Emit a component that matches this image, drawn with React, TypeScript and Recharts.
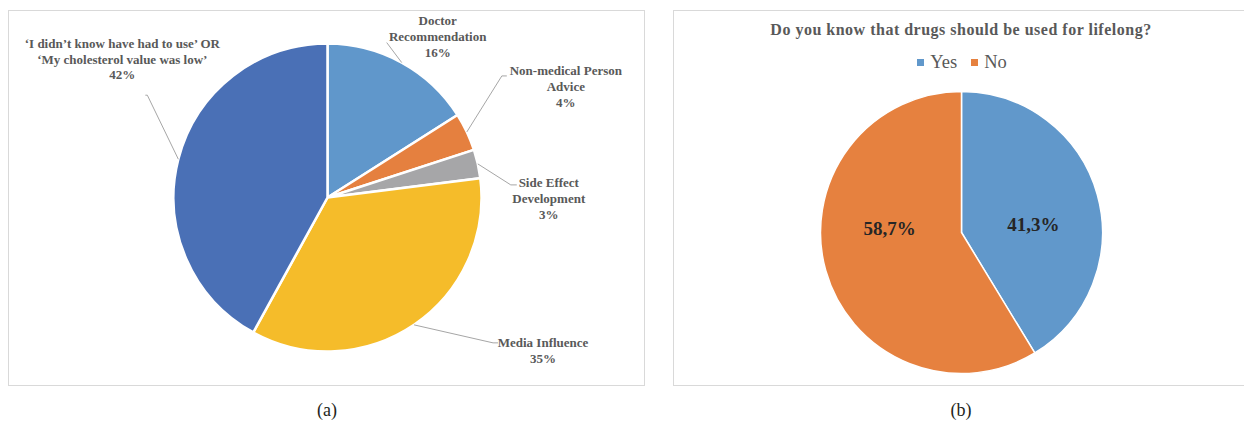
import { Cell, Legend, Pie, PieChart } from 'recharts'

// (a) reasons for stopping the drug
const reasonCategories = [
    'Doctor\nRecommendation',
    'Non-medical Person\nAdvice',
    'Side Effect\nDevelopment',
    'Media Influence',
    '‘I didn’t know have had to use’ OR\n‘My cholesterol value was low’',
]
const reasonValues = [16, 4, 3, 35, 42]

// (b) lifelong use question
const lifelongTitle = 'Do you know that drugs should be used for lifelong?'
const lifelongCategories = ['Yes', 'No']
const lifelongValues = [41.3, 58.7]

const REASON_COLORS = ['#6097cb', '#e5803f', '#a6a6a8', '#f5bc2a', '#4a70b6']
const LIFELONG_COLORS = ['#6198cb', '#e6813f']

const SERIF = '"Liberation Serif", "Times New Roman", serif'
const LABEL_GREY = '#595959'
const RADIAN = Math.PI / 180
const NO_MARGIN = { top: 0, right: 0, bottom: 0, left: 0 }

// leader line / text placement relative to the slice edge point
const REASON_LABELS = [
    { elbow: [-15, -20], end: [-15, -20], text: [36, -42] },
    { elbow: [35, -56], end: [40, -56], text: [99, -61] },
    { elbow: [33, 21], end: [39, 21], text: [71, 19] },
    { elbow: [79, 18], end: [84, 18], text: [129, 18] },
    { elbow: [-31, -64], end: [-33, -64], text: [-56, -116] },
]

const reasonData = reasonCategories.map((name, i) => ({ name, value: reasonValues[i] }))
const lifelongData = lifelongCategories.map((name, i) => ({ name, value: lifelongValues[i] }))

const renderReasonLabel = (props: any) => {
    const { cx, cy, midAngle, outerRadius, index } = props
    const entry = reasonData[index]
    const ex = cx + outerRadius * Math.cos(-midAngle * RADIAN)
    const ey = cy + outerRadius * Math.sin(-midAngle * RADIAN)
    const lay = REASON_LABELS[index]
    const lines = [...entry.name.split('\n'), `${entry.value}%`]
    return (
        <g key={`reason-label-${index}`}>
            <polyline
                points={`${ex},${ey} ${ex + lay.elbow[0]},${ey + lay.elbow[1]} ${ex + lay.end[0]},${ey + lay.end[1]}`}
                fill="none"
                stroke="#a6a6a6"
                strokeWidth={1}
            />
            <text
                x={ex + lay.text[0]}
                y={ey + lay.text[1]}
                textAnchor="middle"
                fill={LABEL_GREY}
                fontFamily={SERIF}
                fontWeight="bold"
                fontSize={13}
            >
                {lines.map((line, i) => (
                    <tspan key={i} x={ex + lay.text[0]} dy={i === 0 ? 4.5 : 15.8}>{line}</tspan>
                ))}
            </text>
        </g>
    )
}

const LIFELONG_LABEL_DY = [-8, -4]

const renderLifelongLabel = (props: any) => {
    const { cx, cy, midAngle, outerRadius, index } = props
    const x = cx + outerRadius * 0.53 * Math.cos(-midAngle * RADIAN)
    const y = cy + LIFELONG_LABEL_DY[index]
    return (
        <text
            key={`lifelong-label-${index}`}
            x={x}
            y={y}
            textAnchor="middle"
            dominantBaseline="central"
            fill="#262626"
            fontFamily={SERIF}
            fontWeight="bold"
            fontSize={19}
        >
            {`${lifelongValues[index].toFixed(1).replace('.', ',')}%`}
        </text>
    )
}

const renderLegend = (props: any) => {
    const items = [...(props.payload || [])].sort(
        (a: any, b: any) => lifelongCategories.indexOf(a.value) - lifelongCategories.indexOf(b.value)
    )
    return (
        <div style={{ display: 'flex', justifyContent: 'center', gap: 14, fontFamily: SERIF, fontSize: 18.5, color: LABEL_GREY }}>
            {items.map((item: any, i: number) => (
                <span key={i} style={{ display: 'inline-flex', alignItems: 'center' }}>
                    <span style={{ width: 7, height: 7, background: item.color, display: 'inline-block', marginRight: 6 }} />
                    {item.value}
                </span>
            ))}
        </div>
    )
}

const panelBorder = '1px solid #d9d9d9'

export default function App() {
    return (
        <div style={{ position: 'absolute', left: 0, top: 0, width: 1244, height: 427, overflow: 'hidden', background: '#fff' }}>
            {/* (a) */}
            <div style={{ position: 'absolute', left: 8, top: 10, width: 637, height: 376, border: panelBorder, boxSizing: 'border-box' }}>
                <PieChart width={635} height={374} margin={NO_MARGIN}>
                    <Pie
                        data={reasonData}
                        dataKey="value"
                        nameKey="name"
                        cx={318.5}
                        cy={186.5}
                        outerRadius={154}
                        startAngle={90}
                        endAngle={-270}
                        stroke="#fff"
                        strokeWidth={2.5}
                        labelLine={false}
                        label={renderReasonLabel}
                        isAnimationActive={false}
                    >
                        {reasonData.map((item, index) => (
                            <Cell key={`cell-${index}`} fill={REASON_COLORS[index]} />
                        ))}
                    </Pie>
                </PieChart>
            </div>

            {/* (b) */}
            <div style={{ position: 'absolute', left: 673, top: 10, width: 571, height: 376, border: panelBorder, borderRight: 'none', boxSizing: 'border-box' }}>
                <PieChart width={570} height={374} margin={NO_MARGIN}>
                    <Legend verticalAlign="middle" align="center" wrapperStyle={{ top: 41, left: 0, width: 576 }} content={renderLegend} />
                    <Pie
                        data={lifelongData}
                        dataKey="value"
                        nameKey="name"
                        cx={287.5}
                        cy={221.5}
                        outerRadius={141}
                        startAngle={90}
                        endAngle={-270}
                        stroke="#fff"
                        strokeWidth={1.5}
                        labelLine={false}
                        label={renderLifelongLabel}
                        isAnimationActive={false}
                    >
                        {lifelongData.map((item, index) => (
                            <Cell key={`cell-${index}`} fill={LIFELONG_COLORS[index]} />
                        ))}
                    </Pie>
                </PieChart>
            </div>

            <div style={{ position: 'absolute', left: 661, top: 21, width: 600, textAlign: 'center', whiteSpace: 'nowrap', fontFamily: SERIF, fontWeight: 'bold', fontSize: 16, color: LABEL_GREY, letterSpacing: 0.5 }}>
                {lifelongTitle}
            </div>

            <div style={{ position: 'absolute', left: 277, top: 400, width: 100, textAlign: 'center', fontFamily: SERIF, fontSize: 18, color: '#231f20' }}>(a)</div>
            <div style={{ position: 'absolute', left: 911, top: 400, width: 100, textAlign: 'center', fontFamily: SERIF, fontSize: 18, color: '#231f20' }}>(b)</div>
        </div>
    )
}
